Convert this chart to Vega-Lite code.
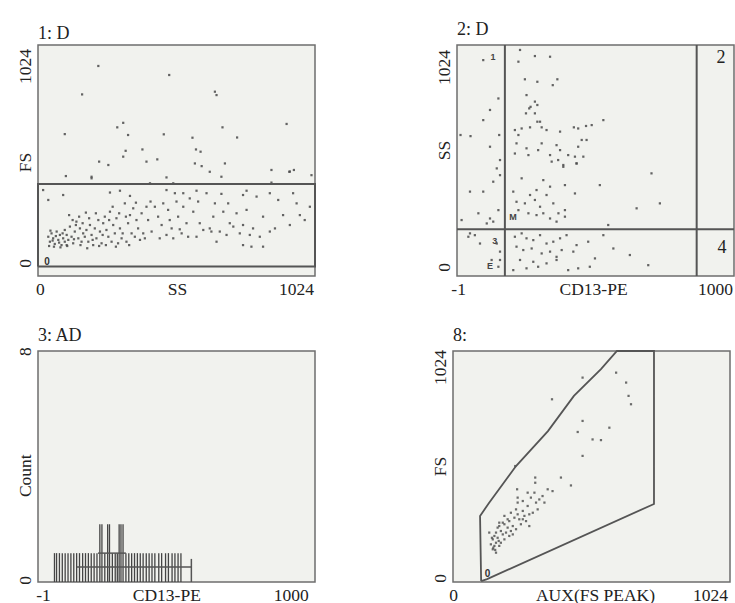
{
"$schema": "https://vega.github.io/schema/vega-lite/v6.json",
"padding": {"left": 15, "top": 20, "right": 5, "bottom": 5},
"background": "white",
"config": {
 "view": {"fill": "#f1f2ee", "stroke": "#6e6e6e", "strokeWidth": 1.5},
 "font": "Liberation Serif",
 "axis": {"labelFont": "Liberation Serif", "labelFontSize": 17.5, "labelColor": "#222", "ticks": false, "domain": false, "grid": false, "labelOverlap": false, "labelBound": false, "labelFlush": false, "labelPadding": 4},
 "axisY": {"labelAngle": -90},
 "title": {"anchor": "start", "frame": "group", "fontSize": 18, "font": "Liberation Serif", "fontWeight": "normal", "offset": 2, "color": "#222"}
},
"datasets": {
 "p1": [
  {"x":38,"y":174},{"x":44,"y":152},{"x":50,"y":189},{"x":56,"y":167},{"x":62,"y":142},{"x":69,"y":197},{"x":75,"y":160},{"x":81,"y":182},{"x":87,"y":137},{"x":93,"y":167},
  {"x":41,"y":133},{"x":54,"y":157},{"x":66,"y":177},{"x":78,"y":148},{"x":91,"y":189},{"x":46,"y":201},{"x":59,"y":130},{"x":83,"y":127},{"x":99,"y":152},{"x":106,"y":137},
  {"x":99,"y":204},{"x":106,"y":182},{"x":112,"y":160},{"x":118,"y":219},{"x":124,"y":174},{"x":130,"y":145},{"x":136,"y":197},{"x":142,"y":241},{"x":149,"y":167},{"x":155,"y":211},
  {"x":161,"y":152},{"x":167,"y":189},{"x":115,"y":270},{"x":128,"y":248},{"x":140,"y":226},{"x":152,"y":263},{"x":108,"y":133},{"x":133,"y":163},{"x":157,"y":137},{"x":165,"y":234},
  {"x":173,"y":174},{"x":179,"y":204},{"x":186,"y":152},{"x":192,"y":226},{"x":198,"y":182},{"x":204,"y":137},{"x":210,"y":211},{"x":216,"y":167},{"x":223,"y":248},{"x":229,"y":197},
  {"x":235,"y":145},{"x":241,"y":234},{"x":177,"y":281},{"x":189,"y":256},{"x":202,"y":160},{"x":214,"y":278},{"x":226,"y":133},{"x":239,"y":182},{"x":182,"y":123},{"x":247,"y":263},
  {"x":253,"y":204},{"x":260,"y":174},{"x":266,"y":285},{"x":272,"y":152},{"x":278,"y":226},{"x":284,"y":189},{"x":290,"y":256},{"x":296,"y":145},{"x":303,"y":211},{"x":309,"y":167},
  {"x":251,"y":137},{"x":263,"y":248},{"x":276,"y":307},{"x":288,"y":130},{"x":300,"y":278},{"x":313,"y":189},{"x":321,"y":322},{"x":327,"y":152},{"x":333,"y":234},{"x":340,"y":270},
  {"x":346,"y":189},{"x":352,"y":300},{"x":358,"y":174},{"x":364,"y":248},{"x":370,"y":211},{"x":377,"y":160},{"x":337,"y":137},{"x":383,"y":278},{"x":389,"y":189},{"x":395,"y":167},
  {"x":362,"y":325},{"x":325,"y":263},{"x":407,"y":248},{"x":420,"y":197},{"x":432,"y":307},{"x":444,"y":263},{"x":457,"y":226},{"x":463,"y":322},{"x":475,"y":182},{"x":481,"y":293},
  {"x":494,"y":211},{"x":500,"y":167},{"x":512,"y":330},{"x":518,"y":263},{"x":531,"y":189},{"x":537,"y":307},{"x":549,"y":234},{"x":555,"y":174},{"x":561,"y":344},{"x":450,"y":167},
  {"x":487,"y":248},{"x":401,"y":307},{"x":416,"y":330},{"x":506,"y":367},{"x":524,"y":207},{"x":574,"y":285},{"x":586,"y":174},{"x":598,"y":234},{"x":611,"y":204},{"x":623,"y":367},
  {"x":635,"y":211},{"x":648,"y":263},{"x":654,"y":322},{"x":660,"y":152},{"x":672,"y":197},{"x":685,"y":285},{"x":697,"y":182},{"x":709,"y":234},{"x":722,"y":219},{"x":734,"y":278},
  {"x":592,"y":330},{"x":641,"y":197},{"x":678,"y":364},{"x":703,"y":322},{"x":746,"y":189},{"x":758,"y":226},{"x":771,"y":293},{"x":783,"y":182},{"x":795,"y":211},{"x":808,"y":352},
  {"x":820,"y":174},{"x":832,"y":263},{"x":857,"y":197},{"x":876,"y":211},{"x":888,"y":337},{"x":906,"y":270},{"x":931,"y":226},{"x":956,"y":322},{"x":968,"y":270},{"x":986,"y":248},
  {"x":1005,"y":307},{"x":758,"y":137},{"x":832,"y":130},{"x":789,"y":130},
  {"x":266,"y":370},{"x":303,"y":378},{"x":340,"y":355},{"x":475,"y":381},{"x":537,"y":367},{"x":586,"y":378},{"x":758,"y":359},{"x":771,"y":378},{"x":857,"y":367},{"x":943,"y":367},
  {"x":38,"y":337},{"x":93,"y":359},{"x":19,"y":381},
  {"x":223,"y":931},{"x":485,"y":891},{"x":163,"y":805},{"x":654,"y":817},{"x":660,"y":802},{"x":99,"y":629},{"x":293,"y":659},{"x":315,"y":679},{"x":333,"y":625},{"x":465,"y":628},
  {"x":571,"y":613},{"x":682,"y":659},{"x":736,"y":614},{"x":919,"y":674},{"x":324,"y":555},{"x":386,"y":561},{"x":315,"y":529},{"x":401,"y":507},{"x":441,"y":517},{"x":226,"y":507},
  {"x":260,"y":492},{"x":584,"y":561},{"x":601,"y":551},{"x":580,"y":499},{"x":605,"y":487},{"x":691,"y":499},{"x":635,"y":462},{"x":863,"y":470},{"x":929,"y":462},{"x":946,"y":470},
  {"x":1011,"y":447},{"x":198,"y":440},{"x":103,"y":443},{"x":475,"y":437},{"x":678,"y":440},{"x":198,"y":433},{"x":414,"y":411},{"x":500,"y":411},{"x":863,"y":414},{"x":931,"y":463}
 ],
 "g1": [{"x":0,"y":42,"o":1},{"x":1024,"y":42,"o":2},{"x":1024,"y":408,"o":3},{"x":0,"y":408,"o":4},{"x":0,"y":42,"o":5}],
 "p2": [
  {"x":97,"y":957},{"x":288,"y":975},{"x":344,"y":972},{"x":227,"y":950},{"x":233,"y":1002},{"x":251,"y":872},{"x":297,"y":861},{"x":354,"y":846},{"x":371,"y":872},{"x":257,"y":802},
  {"x":288,"y":773},{"x":297,"y":758},{"x":267,"y":743},{"x":272,"y":750},{"x":255,"y":721},{"x":288,"y":721},{"x":297,"y":684},{"x":307,"y":684},{"x":239,"y":654},{"x":97,"y":691},
  {"x":122,"y":736},{"x":13,"y":625},{"x":50,"y":620},{"x":156,"y":625},{"x":214,"y":647},{"x":227,"y":625},{"x":270,"y":659},{"x":313,"y":659},{"x":331,"y":647},{"x":381,"y":640},
  {"x":432,"y":659},{"x":448,"y":654},{"x":477,"y":665},{"x":498,"y":669},{"x":541,"y":691},{"x":461,"y":603},{"x":479,"y":603},{"x":448,"y":573},{"x":368,"y":580},{"x":313,"y":588},
  {"x":257,"y":566},{"x":220,"y":588},{"x":214,"y":543},{"x":264,"y":536},{"x":300,"y":558},{"x":344,"y":536},{"x":381,"y":558},{"x":411,"y":536},{"x":436,"y":529},{"x":467,"y":529},
  {"x":374,"y":514},{"x":393,"y":492},{"x":442,"y":499},{"x":159,"y":514},{"x":122,"y":573},{"x":153,"y":787},
  {"x":350,"y":507},{"x":393,"y":484},{"x":442,"y":499},{"x":528,"y":403},{"x":436,"y":366},{"x":399,"y":403},{"x":344,"y":396},{"x":319,"y":425},{"x":294,"y":381},{"x":270,"y":359},
  {"x":239,"y":433},{"x":208,"y":374},{"x":220,"y":329},{"x":251,"y":322},{"x":288,"y":337},{"x":307,"y":307},{"x":331,"y":359},{"x":356,"y":322},{"x":375,"y":278},{"x":399,"y":292},
  {"x":319,"y":278},{"x":294,"y":270},{"x":264,"y":278},{"x":227,"y":292},{"x":344,"y":255},{"x":368,"y":241},{"x":399,"y":263},{"x":559,"y":226},{"x":750,"y":322},{"x":719,"y":455},
  {"x":664,"y":300},{"x":97,"y":374},{"x":48,"y":374},{"x":134,"y":418},{"x":153,"y":292},{"x":122,"y":255},{"x":110,"y":233},{"x":134,"y":241},{"x":79,"y":278},{"x":17,"y":248},
  {"x":159,"y":447},{"x":147,"y":477},{"x":42,"y":174},{"x":66,"y":181},{"x":85,"y":144},
  {"x":214,"y":174},{"x":239,"y":189},{"x":257,"y":167},{"x":282,"y":159},{"x":307,"y":181},{"x":331,"y":144},{"x":356,"y":152},{"x":381,"y":167},{"x":405,"y":181},{"x":220,"y":130},
  {"x":245,"y":115},{"x":276,"y":122},{"x":313,"y":100},{"x":344,"y":108},{"x":368,"y":85},{"x":387,"y":115},{"x":430,"y":108},{"x":442,"y":137},{"x":485,"y":152},{"x":541,"y":181},
  {"x":510,"y":78},{"x":578,"y":122},{"x":639,"y":93},{"x":707,"y":48},{"x":233,"y":71},{"x":282,"y":63},{"x":331,"y":56},{"x":368,"y":71},{"x":411,"y":26},{"x":448,"y":34},
  {"x":491,"y":41},{"x":208,"y":26},{"x":257,"y":34},{"x":300,"y":41},{"x":128,"y":71},{"x":159,"y":108},{"x":147,"y":144},{"x":48,"y":189},{"x":153,"y":41},{"x":159,"y":71}
 ],
 "g2": [{"g":"a","x":177,"y":0},{"g":"a","x":177,"y":1024},{"g":"b","x":886,"y":0},{"g":"b","x":886,"y":1024},{"g":"c","x":0,"y":207},{"g":"c","x":1024,"y":207}],
 "t2": [
  {"x":976,"y":966,"t":"2","s":"big"},{"x":980,"y":124,"t":"4","s":"big"},
  {"x":133,"y":971,"t":"1","s":"small"},{"x":140,"y":155,"t":"3","s":"small"},{"x":122,"y":44,"t":"E","s":"small"},{"x":207,"y":262,"t":"M","s":"small"}
 ],
 "h3": [
  {"x":44,"y":1},{"x":52,"y":1},{"x":63,"y":1},{"x":74,"y":1},{"x":85,"y":1},{"x":96,"y":1},{"x":107,"y":1},{"x":118,"y":1},{"x":129,"y":1},{"x":140,"y":1},
  {"x":152,"y":1},{"x":163,"y":1},{"x":174,"y":1},{"x":185,"y":1},{"x":196,"y":1},{"x":207,"y":1},{"x":218,"y":2},{"x":226,"y":2},{"x":237,"y":1},{"x":248,"y":2},
  {"x":255,"y":2},{"x":266,"y":1},{"x":277,"y":1},{"x":285,"y":1},{"x":292,"y":2},{"x":299,"y":2},{"x":307,"y":2},{"x":318,"y":1},{"x":329,"y":1},{"x":340,"y":1},
  {"x":351,"y":1},{"x":362,"y":1},{"x":373,"y":1},{"x":384,"y":1},{"x":396,"y":1},{"x":407,"y":1},{"x":418,"y":1},{"x":429,"y":1},{"x":444,"y":1},{"x":455,"y":1},
  {"x":470,"y":1},{"x":481,"y":1},{"x":495,"y":1},{"x":506,"y":1},{"x":518,"y":1},{"x":529,"y":1}
 ],
 "g3": [{"g":"h","x":129,"y":0.52},{"g":"h","x":569,"y":0.52},{"g":"v","x":569,"y":0},{"g":"v","x":569,"y":0.8},{"g":"t","x":211,"y":1},{"g":"t","x":318,"y":1}],
 "p4": [
  {"x":479,"y":906},{"x":640,"y":884},{"x":649,"y":825},{"x":658,"y":788},{"x":603,"y":928},{"x":366,"y":810},{"x":479,"y":714},{"x":578,"y":684},{"x":461,"y":665},{"x":516,"y":632},
  {"x":547,"y":629},{"x":479,"y":559},{"x":399,"y":463},{"x":436,"y":428},{"x":304,"y":463},{"x":304,"y":440},{"x":230,"y":514},{"x":350,"y":411},{"x":368,"y":403},{"x":331,"y":381},
  {"x":319,"y":366},{"x":307,"y":352},{"x":288,"y":374},{"x":239,"y":374},{"x":239,"y":352},{"x":276,"y":337},{"x":313,"y":322},{"x":295,"y":307},{"x":258,"y":315},{"x":233,"y":322},
  {"x":214,"y":307},{"x":264,"y":293},{"x":245,"y":278},{"x":227,"y":285},{"x":208,"y":270},{"x":190,"y":293},{"x":184,"y":263},{"x":171,"y":248},{"x":282,"y":300},{"x":270,"y":270},
  {"x":251,"y":256},{"x":221,"y":248},{"x":202,"y":241},{"x":177,"y":226},{"x":159,"y":219},{"x":153,"y":204},{"x":147,"y":189},{"x":165,"y":196},{"x":184,"y":211},{"x":196,"y":219},
  {"x":214,"y":226},{"x":233,"y":234},{"x":159,"y":174},{"x":153,"y":160},{"x":147,"y":145},{"x":171,"y":160},{"x":190,"y":189},{"x":159,"y":130},{"x":169,"y":182},{"x":177,"y":174},
  {"x":208,"y":204},{"x":221,"y":211},{"x":140,"y":167},{"x":149,"y":152},{"x":156,"y":142},{"x":144,"y":196},{"x":165,"y":241},{"x":239,"y":300},{"x":258,"y":359},{"x":301,"y":396},
  {"x":338,"y":352},{"x":282,"y":248},{"x":134,"y":219},{"x":190,"y":256},{"x":202,"y":278},{"x":171,"y":263},{"x":237,"y":411},{"x":258,"y":278},{"x":276,"y":396}
 ],
 "g4": [
  {"x":104,"y":4,"o":1},{"x":100,"y":293,"o":2},{"x":133,"y":350,"o":3},{"x":233,"y":514,"o":4},{"x":351,"y":669,"o":5},{"x":447,"y":825,"o":6},{"x":547,"y":944,"o":7},
  {"x":606,"y":1024,"o":8},{"x":743,"y":1024,"o":9},{"x":743,"y":346,"o":10},{"x":126,"y":13,"o":11},{"x":104,"y":4,"o":12}
 ]
},
"vconcat": [
 {"hconcat": [
  {"title": "1: D", "width": 277, "height": 231,
   "encoding": {
    "x": {"field": "x", "type": "quantitative", "scale": {"domain": [0, 1024], "nice": false, "zero": false}, "axis": {"title": null, "values": [7, 514, 954], "labelExpr": "datum.value < 100 ? '0' : datum.value < 800 ? 'SS' : '1024'"}},
    "y": {"field": "y", "type": "quantitative", "scale": {"domain": [0, 1024], "nice": false, "zero": false}, "axis": {"title": null, "values": [58, 505, 931], "labelExpr": "datum.value < 100 ? '0' : datum.value < 800 ? 'FS' : '1024'"}}
   },
   "layer": [
    {"data": {"name": "p1"}, "mark": {"type": "square", "size": 5, "color": "#4a4a4a", "opacity": 0.85}, "encoding": {}},
    {"data": {"name": "g1"}, "mark": {"type": "line", "color": "#555", "strokeWidth": 2}, "encoding": {"order": {"field": "o", "type": "quantitative"}}},
    {"data": {"values": [{"x": 33, "y": 62, "t": "0"}]}, "mark": {"type": "text", "fontSize": 10, "fontWeight": "bold", "font": "Liberation Sans", "color": "#333"}, "encoding": {"text": {"field": "t"}}}
   ]
  },
  {"title": "2: D", "width": 277, "height": 231,
   "encoding": {
    "x": {"field": "x", "type": "quantitative", "scale": {"domain": [0, 1024], "nice": false, "zero": false}, "axis": {"title": null, "values": [4, 503, 954], "labelExpr": "datum.value < 100 ? '-1' : datum.value < 800 ? 'CD13-PE' : '1000'"}},
    "y": {"field": "y", "type": "quantitative", "scale": {"domain": [0, 1024], "nice": false, "zero": false}, "axis": {"title": null, "values": [40, 559, 926], "labelExpr": "datum.value < 100 ? '0' : datum.value < 800 ? 'SS' : '1024'"}}
   },
   "layer": [
    {"data": {"name": "p2"}, "mark": {"type": "square", "size": 5, "color": "#4a4a4a", "opacity": 0.85}, "encoding": {}},
    {"data": {"name": "g2"}, "mark": {"type": "line", "color": "#555", "strokeWidth": 2}, "encoding": {"detail": {"field": "g"}}},
    {"data": {"name": "t2"}, "transform": [{"filter": "datum.s == 'big'"}], "mark": {"type": "text", "fontSize": 18, "color": "#222"}, "encoding": {"text": {"field": "t"}}},
    {"data": {"name": "t2"}, "transform": [{"filter": "datum.s == 'small'"}], "mark": {"type": "text", "fontSize": 9, "fontWeight": "bold", "font": "Liberation Sans", "color": "#444"}, "encoding": {"text": {"field": "t"}}}
   ]
  }
 ], "spacing": 114},
 {"hconcat": [
  {"title": "3: AD", "width": 277, "height": 231,
   "encoding": {
    "x": {"field": "x", "type": "quantitative", "scale": {"domain": [0, 1024], "nice": false, "zero": false}, "axis": {"title": null, "values": [0, 473, 950], "labelExpr": "datum.value < 100 ? '-1' : datum.value < 800 ? 'CD13-PE' : '1000'"}},
    "y": {"field": "y", "type": "quantitative", "scale": {"domain": [0, 8], "nice": false, "zero": false}, "axis": {"title": null, "values": [0.07, 3.7, 8], "labelExpr": "datum.value < 1 ? '0' : datum.value < 7 ? 'Count' : '8'"}}
   },
   "layer": [
    {"data": {"name": "h3"}, "mark": {"type": "bar", "width": 1.3, "color": "#444"}, "encoding": {}},
    {"data": {"name": "g3"}, "mark": {"type": "line", "color": "#555", "strokeWidth": 1.5}, "encoding": {"detail": {"field": "g"}}}
   ]
  },
  {"title": "8:", "width": 277, "height": 231,
   "encoding": {
    "x": {"field": "x", "type": "quantitative", "scale": {"domain": [0, 1024], "nice": false, "zero": false}, "axis": {"title": null, "values": [0, 525, 950], "labelExpr": "datum.value < 100 ? '0' : datum.value < 800 ? 'AUX(FS PEAK)' : '1024'"}},
    "y": {"field": "y", "type": "quantitative", "scale": {"domain": [0, 1024], "nice": false, "zero": false}, "axis": {"title": null, "values": [18, 514, 953], "labelExpr": "datum.value < 100 ? '0' : datum.value < 800 ? 'FS' : '1024'"}}
   },
   "layer": [
    {"data": {"name": "p4"}, "mark": {"type": "square", "size": 5, "color": "#4a4a4a", "opacity": 0.8}, "encoding": {}},
    {"data": {"name": "g4"}, "mark": {"type": "line", "color": "#555", "strokeWidth": 1.8}, "encoding": {"order": {"field": "o", "type": "quantitative"}}},
    {"data": {"values": [{"x": 128, "y": 35, "t": "0"}]}, "mark": {"type": "text", "fontSize": 10, "fontWeight": "bold", "font": "Liberation Sans", "color": "#333"}, "encoding": {"text": {"field": "t"}}}
   ]
  }
 ], "spacing": 114}
],
"spacing": 26
}
